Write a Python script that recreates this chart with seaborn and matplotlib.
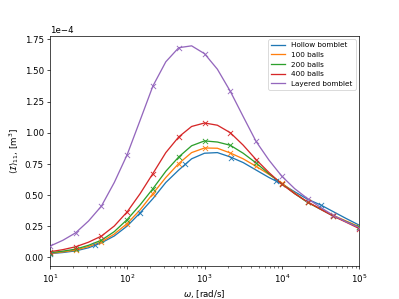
import numpy as np
import pandas as pd
import seaborn as sns
import matplotlib
matplotlib.use("Agg")
import matplotlib.pyplot as plt

# frequencies (rad/s), one sixth of a decade apart
omega = [10, 14.7, 21.5, 31.6, 46.4, 68.1, 100, 147, 215, 316, 464, 681, 1000,
         1468, 2154, 3162, 4642, 6813, 10000, 14678, 21544, 31623, 46416, 68129, 100000]

# curve values, in units of 1e-4 m^3
hollow = [0.028, 0.037, 0.050, 0.075, 0.115, 0.170, 0.250, 0.356, 0.470, 0.600, 0.700, 0.790, 0.835,
          0.840, 0.805, 0.760, 0.700, 0.640, 0.588, 0.525, 0.465, 0.420, 0.365, 0.310, 0.257]
balls100 = [0.030, 0.042, 0.056, 0.085, 0.123, 0.185, 0.270, 0.380, 0.510, 0.640, 0.752, 0.840, 0.877,
            0.875, 0.837, 0.790, 0.730, 0.665, 0.595, 0.515, 0.440, 0.390, 0.335, 0.290, 0.245]
balls200 = [0.035, 0.048, 0.064, 0.095, 0.136, 0.205, 0.302, 0.420, 0.550, 0.690, 0.805, 0.895, 0.934,
            0.925, 0.899, 0.835, 0.757, 0.670, 0.590, 0.510, 0.440, 0.385, 0.330, 0.285, 0.240]
balls400 = [0.043, 0.060, 0.083, 0.120, 0.169, 0.250, 0.364, 0.510, 0.672, 0.840, 0.966, 1.050, 1.078,
            1.060, 1.000, 0.900, 0.784, 0.680, 0.586, 0.510, 0.444, 0.385, 0.329, 0.280, 0.230]
layered = [0.088, 0.135, 0.195, 0.290, 0.410, 0.600, 0.824, 1.100, 1.375, 1.570, 1.683, 1.698, 1.635,
           1.510, 1.333, 1.130, 0.930, 0.780, 0.650, 0.550, 0.470, 0.400, 0.335, 0.283, 0.238]

# the hollow bomblet has its own marker positions
hollow_mark_x = [10, 38.4, 147, 566, 2170, 8330, 32000]
hollow_mark_y = [0.028, 0.100, 0.356, 0.752, 0.800, 0.610, 0.420]

labels = ["Hollow bomblet", "100 balls", "200 balls", "400 balls", "Layered bomblet"]
series = [hollow, balls100, balls200, balls400, layered]
colors = sns.color_palette("tab10", 5)

# default matplotlib figure, saved small
fig, ax = plt.subplots(figsize=(6.4, 4.8), dpi=62.35)

df = pd.concat([
    pd.DataFrame({"omega": omega, "I": np.array(vals) * 1e-4, "case": lab})
    for lab, vals in zip(labels, series)
])
sns.lineplot(data=df, x="omega", y="I", hue="case", palette=colors, linewidth=1.5, ax=ax)

# markers: every other line point for the filled cases, own points for the hollow one
for i, (lab, vals) in enumerate(zip(labels, series)):
    if i == 0:
        mx, my = hollow_mark_x, hollow_mark_y
    else:
        mx, my = omega[::2], vals[::2]
    sns.scatterplot(x=mx, y=np.array(my) * 1e-4, marker="x", s=36, linewidth=1,
                    color=colors[i], legend=False, ax=ax, zorder=3)

ax.set_xscale("log")
ax.set_xlim(10, 1e5)
ax.set_ylim(-0.072e-4, 1.78e-4)
ax.ticklabel_format(axis="y", style="sci", scilimits=(0, 0))
ax.set_xlabel(r"$\omega$, [rad/s]")
ax.set_ylabel(r"$\langle \mathcal{I} \rangle_{11}$, [m$^3$]")
ax.legend(fontsize="small", loc="upper right")

fig.savefig("out.png", dpi=62.35)
